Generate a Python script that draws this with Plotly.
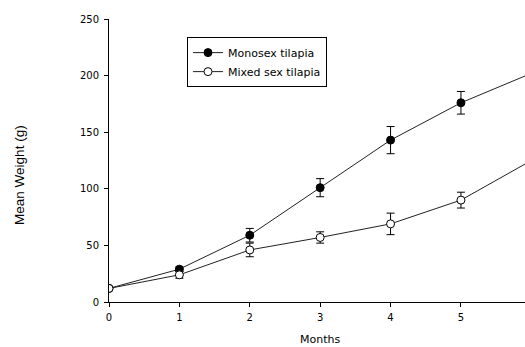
import plotly.graph_objects as go

months = [0, 1, 2, 3, 4, 5, 6]
mono_mean = [12, 29, 59, 101, 143, 176, 202]
mono_err = [1, 2, 6, 8, 12, 10, 10]
mixed_mean = [12, 24, 46, 57, 69, 90, 125]
mixed_err = [1, 3, 6, 5, 9.5, 7, 7]

tick_font = dict(family="DejaVu Sans, sans-serif", size=10, color="black")

fig = go.Figure()
fig.add_trace(go.Scatter(
    x=months, y=mono_mean, mode="lines+markers", name="Monosex tilapia",
    line=dict(color="#222222", width=1),
    marker=dict(symbol="circle", size=8, color="black", line=dict(color="black", width=1)),
    error_y=dict(type="data", array=mono_err, visible=True, color="black", thickness=1, width=4),
))
fig.add_trace(go.Scatter(
    x=months, y=mixed_mean, mode="lines+markers", name="Mixed sex tilapia",
    line=dict(color="#222222", width=1),
    marker=dict(symbol="circle", size=8, color="white", line=dict(color="black", width=1)),
    error_y=dict(type="data", array=mixed_err, visible=True, color="black", thickness=1, width=4),
))

fig.update_layout(
    width=525, height=347,
    margin=dict(l=109, r=0, t=19, b=45),
    paper_bgcolor="white", plot_bgcolor="white",
    font=dict(family="Liberation Sans, Arial, sans-serif", color="black", size=9),
    showlegend=True,
    legend=dict(
        x=0.1875, y=0.936, xanchor="left", yanchor="top",
        bordercolor="black", borderwidth=1, bgcolor="white",
        font=dict(family="DejaVu Sans, sans-serif", size=11), tracegroupgap=0,
    ),
    xaxis=dict(
        range=[0, 5.91], tickvals=[0, 1, 2, 3, 4, 5], showgrid=False, zeroline=False,
        showline=True, linecolor="black", linewidth=1,
        ticks="outside", ticklen=4, tickcolor="black", tickfont=tick_font,
        ticklabelstandoff=2,
    ),
    yaxis=dict(
        range=[0, 250], tickvals=[0, 50, 100, 150, 200, 250], showgrid=False, zeroline=False,
        showline=True, linecolor="black", linewidth=1,
        ticks="outside", ticklen=4, tickcolor="black", tickfont=tick_font,
        ticklabelstandoff=3,
    ),
    annotations=[
        dict(text="Mean Weight (g)", xref="paper", yref="paper", x=-0.214, y=0.449,
             xanchor="center", yanchor="middle", textangle=-90, showarrow=False,
             font=dict(family="Liberation Sans, Arial, sans-serif", size=13.5)),
        dict(text="Months", xref="paper", yref="paper", x=0.507, y=-0.134,
             xanchor="center", yanchor="middle", showarrow=False,
             font=dict(family="DejaVu Sans, sans-serif", size=11)),
    ],
)

fig.write_html(
    "out.html",
    config={"displayModeBar": False},
    post_script="document.body.style.margin='0';document.body.style.overflow='hidden';",
)
